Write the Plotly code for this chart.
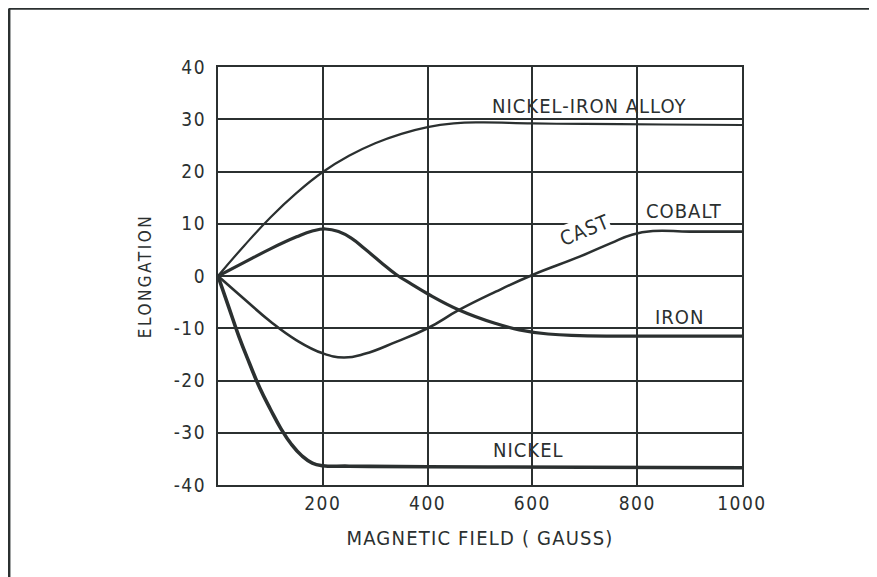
import plotly.graph_objects as go

# magnetostriction curves (field in gauss, elongation)
alloy_x = [0, 50, 100, 150, 200, 250, 300, 350, 400, 450, 500, 600, 700, 850, 1000]
alloy_y = [0, 5.8, 11.2, 15.9, 19.9, 23.0, 25.4, 27.2, 28.5, 29.2, 29.4, 29.2, 29.1, 29.0, 28.9]

iron_x = [0, 50, 100, 150, 180, 205, 230, 255, 280, 310, 340, 370, 400, 460, 530, 575, 630, 690, 800, 1000]
iron_y = [0, 2.6, 5.2, 7.5, 8.6, 9.0, 8.5, 7.2, 5.2, 2.7, 0.3, -1.6, -3.4, -6.5, -9.1, -10.3, -11.1, -11.4, -11.5, -11.5]

cobalt_x = [0, 50, 100, 150, 200, 240, 280, 340, 400, 460, 530, 600, 690, 750, 790, 830, 900, 1000]
cobalt_y = [0, -4.4, -8.7, -12.3, -14.8, -15.6, -14.9, -12.6, -10.0, -6.5, -3.0, 0.2, 3.7, 6.3, 7.9, 8.6, 8.5, 8.5]

nickel_x = [0, 20, 40, 60, 80, 100, 120, 140, 160, 180, 200, 250, 400, 700, 1000]
nickel_y = [0, -5.8, -11.6, -16.7, -21.5, -25.5, -29.2, -32.2, -34.4, -35.8, -36.3, -36.4, -36.5, -36.6, -36.7]

x_ticks = [200, 400, 600, 800, 1000]
y_ticks = [-40, -30, -20, -10, 0, 10, 20, 30, 40]
y_ticktext = ["-40", "-30", "-20", "-10", "0", "10", "20", "30", "40"]

INK = "#2b3030"
FONT = "Liberation Sans Narrow, DejaVu Sans Condensed, Arial Narrow, sans-serif"


def spaced(text, px=1):
    return f'<span style="letter-spacing:{px}px">{text}</span>'


fig = go.Figure()

curves = [
    (alloy_x, alloy_y, 2.2),
    (iron_x, iron_y, 3.2),
    (cobalt_x, cobalt_y, 2.6),
    (nickel_x, nickel_y, 3.6),
]
for xs, ys, w in curves:
    fig.add_trace(go.Scatter(
        x=xs, y=ys, mode="lines",
        line=dict(color=INK, width=w, shape="spline", smoothing=1.3),
        showlegend=False, hoverinfo="skip",
    ))

labels = [
    ("NICKEL-IRON ALLOY", 708, 32.5, 0, False),
    ("COBALT", 889, 12.4, 0, False),
    ("CAST", 700, 8.8, -22, True),
    ("IRON", 880, -7.8, 0, False),
    ("NICKEL", 592, -33.3, 0, False),
]
for text, x, y, ang, bg in labels:
    fig.add_annotation(
        x=x, y=y, text=spaced(text, 1), showarrow=False, textangle=ang,
        font=dict(family=FONT, size=20, color=INK),
        bgcolor="white" if bg else "rgba(0,0,0,0)", borderpad=0,
    )

# outer frame of the printed figure
fig.add_shape(type="line", xref="paper", yref="paper",
              x0=-0.399, x1=1.26, y0=1.14, y1=1.14, line=dict(color=INK, width=2.5))
fig.add_shape(type="line", xref="paper", yref="paper",
              x0=-0.3985, x1=-0.3985, y0=1.14, y1=-0.23, line=dict(color=INK, width=2.5))

grid = dict(showgrid=True, gridcolor=INK, gridwidth=1.8, zeroline=False,
            showline=True, linecolor=INK, linewidth=2.2, mirror=True,
            ticks="", tickfont=dict(family=FONT, size=19, color=INK))

# the page body adds an 8px margin, so the figure is 8px smaller each way
fig.update_layout(
    width=869, height=569,
    margin=dict(l=210, r=135, t=59, b=92),
    paper_bgcolor="white", plot_bgcolor="white",
    xaxis=dict(range=[0, 1000], tickvals=x_ticks,
               ticktext=[spaced(str(v), 1.5) for v in x_ticks],
               title=dict(text=spaced("MAGNETIC FIELD ( GAUSS)", 1.2),
                          font=dict(family=FONT, size=20, color=INK), standoff=18),
               **grid),
    yaxis=dict(range=[-40, 40], tickvals=y_ticks,
               ticktext=[spaced(t, 1.5) for t in y_ticktext],
               title=dict(text=spaced("ELONGATION", 2.5),
                          font=dict(family=FONT, size=17, color=INK), standoff=18),
               ticklabelstandoff=6,
               **grid),
)

fig.write_html("out.html")
